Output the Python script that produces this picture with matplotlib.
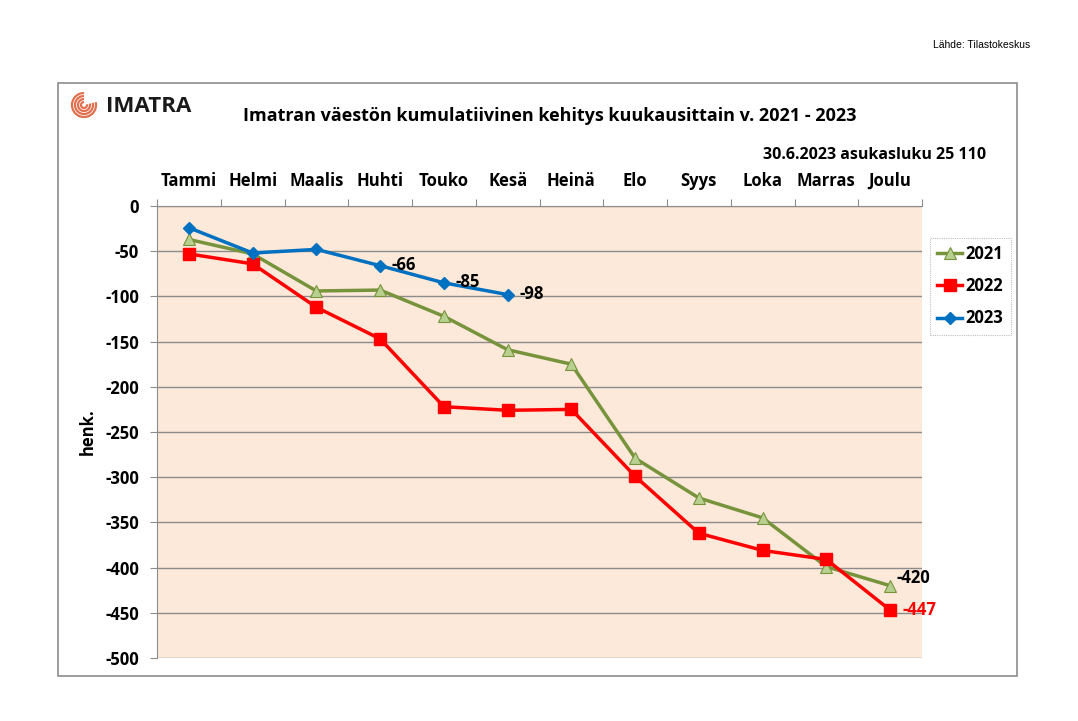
import matplotlib.pyplot as plt
from matplotlib.patches import Rectangle, Arc

months = ["Tammi", "Helmi", "Maalis", "Huhti", "Touko", "Kesä",
          "Heinä", "Elo", "Syys", "Loka", "Marras", "Joulu"]
v2021 = [-37, -53, -94, -93, -122, -159, -175, -279, -323, -345, -399, -420]
v2022 = [-53, -64, -112, -147, -222, -226, -225, -299, -362, -381, -391, -447]
v2023 = [-24, -52, -48, -66, -85, -98]

labels_2023 = {3: "-66", 4: "-85", 5: "-98"}

plt.rcParams['font.family'] = ['Open Sans', 'DejaVu Sans']
plt.rcParams['axes.unicode_minus'] = False

fig = plt.figure(figsize=(10.78, 7.21), dpi=100)
W, H = 1078, 721


def fx(px):
    return px / W


def fy(py):
    return 1 - py / H


# outer frame
fig.patches.append(Rectangle((fx(58), fy(676)), fx(1017) - fx(58), fy(83) - fy(676),
                             transform=fig.transFigure, fill=False,
                             edgecolor="#8c8c8c", lw=1.2))

ax = fig.add_axes([fx(157), fy(658), fx(922) - fx(157), fy(206) - fy(658)])
ax.set_facecolor("#FCE9D9")

x = [i + 0.5 for i in range(len(months))]
ax.plot(x, v2021, color="#77933C", lw=2.5, marker="^", markersize=9,
        markerfacecolor="#B7D08F", markeredgecolor="#77933C", markeredgewidth=0.8,
        label="2021", zorder=3)
ax.plot(x, v2022, color="#FF0000", lw=2.5, marker="s", markersize=8,
        markerfacecolor="#FF0000", markeredgecolor="#FF0000",
        label="2022", zorder=3)
ax.plot(x[:len(v2023)], v2023, color="#0070C0", lw=2.5, marker="D", markersize=6,
        markerfacecolor="#0070C0", markeredgecolor="#0070C0",
        label="2023", zorder=4)

for i, txt in labels_2023.items():
    ax.text(x[i] + 0.18, v2023[i] + 1, txt, fontsize=12, fontweight="bold",
            va="center", ha="left", zorder=5)
ax.text(x[11] + 0.1, v2021[11] - 2, "-420", fontsize=12, fontweight="bold",
        va="bottom", ha="left", zorder=5)
ax.text(x[11] + 0.2, v2022[11], "-447", fontsize=12, fontweight="bold",
        color="#FF0000", va="center", ha="left", zorder=5)

ax.set_xlim(0, 12)
ax.set_ylim(-500, 0)
ax.set_yticks(range(-500, 1, 50))
ax.yaxis.grid(True, color="#8c8c8c", lw=1.0)
ax.set_axisbelow(True)
ax.tick_params(axis="y", labelsize=12, length=5, color="#8c8c8c", pad=8)
for lab in ax.get_yticklabels():
    lab.set_fontweight("bold")

ax.set_xticks(range(0, 13))
ax.set_xticklabels([])
ax.xaxis.set_ticks_position("top")
ax.tick_params(axis="x", length=5, color="#8c8c8c")
for i, m in enumerate(months):
    ax.text(x[i], 1.055, m, transform=ax.get_xaxis_transform(), ha="center",
            va="center", fontsize=12, fontweight="bold")

for side in ["left", "top"]:
    ax.spines[side].set_color("#8c8c8c")
for side in ["right", "bottom"]:
    ax.spines[side].set_visible(False)

ax.set_ylabel("henk.", fontsize=12, fontweight="bold", labelpad=6)

leg = ax.legend(loc="upper left", bbox_to_anchor=(1.01, 0.93), frameon=True,
                prop={"weight": "bold", "size": 12},
                handlelength=1.5, handletextpad=0.2, labelspacing=0.85,
                borderpad=0.45, borderaxespad=0, fancybox=False)
leg.get_frame().set_edgecolor("#b0b0b0")
leg.get_frame().set_linewidth(0.8)
leg.get_frame().set_linestyle((0, (1, 1)))

fig.text(fx(550), fy(116), "Imatran väestön kumulatiivinen kehitys kuukausittain v. 2021 - 2023",
         ha="center", va="center", fontsize=13, fontweight="bold")
fig.text(fx(986), fy(155), "30.6.2023 asukasluku 25 110", ha="right", va="center",
         fontsize=11.5, fontweight="bold")
fig.text(fx(1030), fy(45), "Lähde: Tilastokeskus", ha="right", va="center",
         fontsize=7.5, family="Liberation Sans")

# logo
fig.text(fx(106), fy(107), "IMATRA", ha="left", va="center", fontsize=16,
         fontweight="bold", color="#1a1a1a")
for r in [3, 6, 9, 12]:
    fig.patches.append(Arc((fx(84), fy(105)), 2 * r / W, 2 * r / H, theta1=90, theta2=380,
                           transform=fig.transFigure, color="#E2704F", lw=1.6))

fig.savefig("out.png", dpi=100)
